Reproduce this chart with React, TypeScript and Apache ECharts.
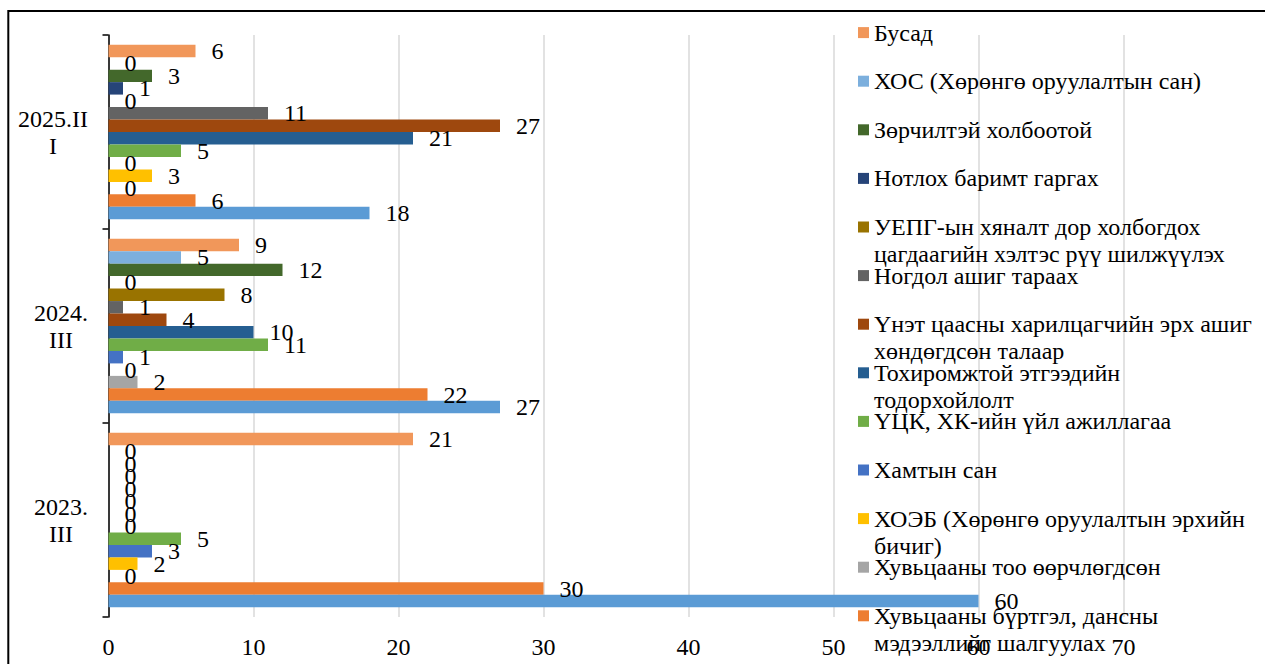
import React, { useEffect, useRef } from 'react';
import * as echarts from 'echarts';

// Categories (bottom to top, as drawn on the category axis)
const categories = ['2023.III', '2024.III', '2025.III'];
const categoryLines: Record<string, string[]> = {
  '2023.III': ['2023.', 'III'],
  '2024.III': ['2024.', 'III'],
  '2025.III': ['2025.II', 'I'],
};

// Value axis ticks
const xMin = 0;
const xMax = 70;
const xInterval = 10;

// Series (first = bottom bar of each group)
const seriesNames = [
  'Ангилал 1',
  'Хувьцааны бүртгэл, дансны мэдээллийг шалгуулах',
  'Хувьцааны тоо өөрчлөгдсөн',
  'ХОЭБ (Хөрөнгө оруулалтын эрхийн бичиг)',
  'Хамтын сан',
  'ҮЦК, ХК-ийн үйл ажиллагаа',
  'Тохиромжтой этгээдийн тодорхойлолт',
  'Үнэт цаасны харилцагчийн эрх ашиг хөндөгдсөн талаар',
  'Ногдол ашиг тараах',
  'УЕПГ-ын хяналт дор холбогдох цагдаагийн хэлтэс рүү шилжүүлэх',
  'Нотлох баримт гаргах',
  'Зөрчилтэй холбоотой',
  'ХОС (Хөрөнгө оруулалтын сан)',
  'Бусад',
];

// Values per series: [2023.III, 2024.III, 2025.III]
const s01 = [60, 27, 18];
const s02 = [30, 22, 6];
const s03 = [0, 2, 0];
const s04 = [2, 0, 3];
const s05 = [3, 1, 0];
const s06 = [5, 11, 5];
const s07 = [0, 10, 21];
const s08 = [0, 4, 27];
const s09 = [0, 1, 11];
const s10 = [0, 8, 0];
const s11 = [0, 0, 1];
const s12 = [0, 12, 3];
const s13 = [0, 5, 0];
const s14 = [21, 9, 6];
const seriesValues = [s01, s02, s03, s04, s05, s06, s07, s08, s09, s10, s11, s12, s13, s14];

const seriesColors = [
  '#5B9BD5', '#ED7D31', '#A5A5A5', '#FFC000', '#4472C4', '#70AD47', '#255E91',
  '#9E480E', '#636363', '#997300', '#264478', '#43682B', '#7CAFDD', '#F1975A',
];

const legendWrapped: Record<string, string[]> = {
  'УЕПГ-ын хяналт дор холбогдох цагдаагийн хэлтэс рүү шилжүүлэх':
    ['УЕПГ-ын хяналт дор холбогдох', 'цагдаагийн хэлтэс рүү шилжүүлэх'],
  'Үнэт цаасны харилцагчийн эрх ашиг хөндөгдсөн талаар':
    ['Үнэт цаасны харилцагчийн эрх ашиг', 'хөндөгдсөн талаар'],
  'Тохиромжтой этгээдийн тодорхойлолт': ['Тохиромжтой этгээдийн', 'тодорхойлолт'],
  'ХОЭБ (Хөрөнгө оруулалтын эрхийн бичиг)': ['ХОЭБ (Хөрөнгө оруулалтын эрхийн', 'бичиг)'],
  'Хувьцааны бүртгэл, дансны мэдээллийг шалгуулах': ['Хувьцааны бүртгэл, дансны', 'мэдээллийг шалгуулах'],
};

const FONT = '"Liberation Serif", "Times New Roman", serif';
const FS = 24;
const LH = 27;

export default function App() {
  const ref = useRef<HTMLDivElement>(null);

  useEffect(() => {
    if (!ref.current) return;
    const chart = echarts.init(ref.current, undefined, { renderer: 'svg' });

    // ECharts stacks horizontal groups top-down, so reverse to keep series 1 at the bottom
    const seriesOrder = seriesNames.map((_, i) => i).reverse();

    const series = seriesOrder.map((i) => ({
      type: 'bar',
      name: seriesNames[i],
      data: seriesValues[i],
      barGap: '0%',
      barCategoryGap: '10%',
      itemStyle: { color: seriesColors[i] },
      label: {
        show: true,
        position: 'right',
        distance: 16,
        color: '#000',
        fontFamily: FONT,
        fontSize: FS,
      },
    }));

    // legend: top item = last series, excluding the first (cut off in the picture)
    const legendNames = seriesNames.slice(1).reverse();
    const legend = legendNames.map((n, i) => {
      const twoLine = !!legendWrapped[n];
      const iconCenter = 33.3 + i * 48.6;
      const half = 14.2 + (twoLine ? LH : 0);
      return {
        data: [n],
        left: 858,
        top: iconCenter - half,
        padding: 0,
        orient: 'vertical',
        icon: 'rect',
        itemWidth: 11,
        itemHeight: 11,
        selectedMode: false,
        formatter: (name: string) => {
          const w = legendWrapped[name];
          return w ? '\n' + w.join('\n') : name;
        },
        textStyle: {
          fontFamily: FONT,
          fontSize: FS,
          color: '#000',
          lineHeight: LH,
        },
      };
    });

    chart.setOption({
      animation: false,
      backgroundColor: '#fff',
      textStyle: { fontFamily: FONT },
      graphic: [
        {
          type: 'rect',
          z: -10,
          shape: { x: 8.3, y: 11, width: 1400, height: 800 },
          style: { fill: 'transparent', stroke: '#000', lineWidth: 2 },
        },
      ],
      grid: { left: 108.5, top: 35, width: 1015, height: 582, containLabel: false },
      legend,
      xAxis: {
        type: 'value',
        min: xMin,
        max: xMax,
        interval: xInterval,
        axisLine: { show: false },
        axisTick: { show: false },
        axisLabel: { color: '#000', fontFamily: FONT, fontSize: FS, margin: 18 },
        splitLine: { show: true, lineStyle: { color: '#D9D9D9', width: 1.5 } },
      },
      yAxis: {
        type: 'category',
        data: categories,
        axisLine: { show: true, lineStyle: { color: '#000', width: 1.5 } },
        axisTick: { show: true, length: 6, lineStyle: { color: '#000', width: 1.5 } },
        axisLabel: {
          color: '#000',
          fontFamily: FONT,
          fontSize: FS,
          lineHeight: LH,
          align: 'right',
          margin: 20.5,
          formatter: (v: string) => {
            const lines = categoryLines[v];
            return lines ? lines.map((l) => '{c|' + l + '}').join('\n') : v;
          },
          rich: {
            c: {
              align: 'center',
              color: '#000',
              fontFamily: FONT,
              fontSize: FS,
              lineHeight: LH,
            },
          },
        },
        splitLine: { show: false },
      },
      series,
    });

    return () => chart.dispose();
  }, []);

  return (
    <div
      ref={ref}
      style={{ position: 'fixed', left: 0, top: 0, width: 1265, height: 664, background: '#fff' }}
    />
  );
}
